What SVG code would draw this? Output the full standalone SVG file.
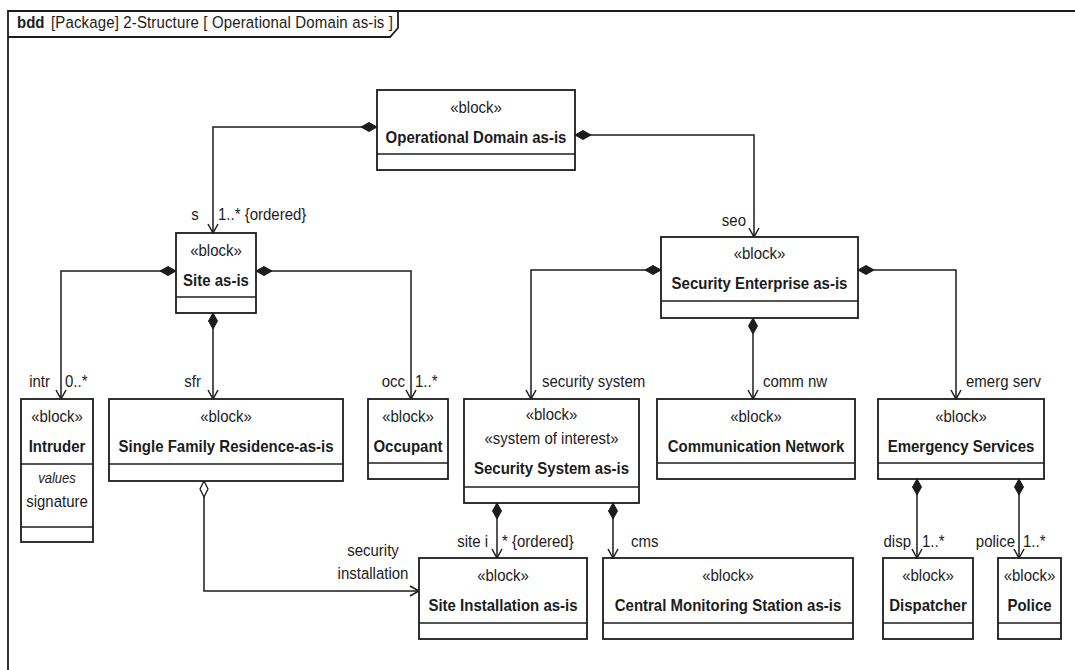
<svg xmlns="http://www.w3.org/2000/svg" width="1075" height="670" viewBox="0 0 1075 670">
  <style>
    text { font-family: "Liberation Sans", Arial, sans-serif; font-size: 15px; fill: #1c1c1c; }
    .c { text-anchor: middle; }
    .e { text-anchor: end; }
    .b { font-weight: bold; }
    .i { font-style: italic; font-size: 13px; }
    .box { fill: #fff; stroke: #1c1c1c; stroke-width: 1.8; }
    .sep { stroke: #1c1c1c; stroke-width: 1.6; fill: none; }
    .frame { fill: none; stroke: #1c1c1c; stroke-width: 1.8; }
    .conn path { fill: none; stroke: #1c1c1c; stroke-width: 1.5; }
  </style>
  <defs>
    <marker id="comp" markerUnits="userSpaceOnUse" markerWidth="20" markerHeight="12" refX="0" refY="0" viewBox="-1 -6 20 12" orient="auto">
      <path d="M0,0 L8,-4.5 L16,0 L8,4.5 Z" fill="#1c1c1c" stroke="#1c1c1c" stroke-width="1"/>
    </marker>
    <marker id="aggr" markerUnits="userSpaceOnUse" markerWidth="20" markerHeight="12" refX="0" refY="0" viewBox="-1 -6 20 12" orient="auto">
      <path d="M0,0 L8,-4 L16,0 L8,4 Z" fill="#fff" stroke="#1c1c1c" stroke-width="1.3"/>
    </marker>
    <marker id="open" markerUnits="userSpaceOnUse" markerWidth="14" markerHeight="14" refX="0" refY="0" viewBox="-12 -7 14 14" orient="auto">
      <path d="M-9,-5 L0,0 L-9,5" fill="none" stroke="#1c1c1c" stroke-width="1.5"/>
    </marker>
  </defs>

  <rect width="1075" height="670" fill="#fff"/>

  <!-- diagram frame with its name tab; text is stretched a little vertically around its baseline -->
  <g id="frame">
    <path class="frame" d="M8,670 V11 H1080"/>
    <path class="frame" d="M8,37 H390 L398,28 V11"/>
    <text x="17" y="28" class="b" transform="translate(0,28) scale(1,1.15) translate(0,-28)">bdd</text>
    <text x="51" y="28" textLength="342" transform="translate(0,28) scale(1,1.15) translate(0,-28)">[Package] 2-Structure [ Operational Domain as-is ]</text>
  </g>

  <!-- associations -->
  <g id="connectors" class="conn">
    <path d="M377,127 H213 V233" marker-start="url(#comp)" marker-end="url(#open)"/>
    <path d="M575,135 H754 V237" marker-start="url(#comp)" marker-end="url(#open)"/>
    <path d="M176,271 H61 V399" marker-start="url(#comp)" marker-end="url(#open)"/>
    <path d="M256,271 H411 V399" marker-start="url(#comp)" marker-end="url(#open)"/>
    <path d="M213,313 V399" marker-start="url(#comp)" marker-end="url(#open)"/>
    <path d="M204,481 V591 H419" marker-start="url(#aggr)" marker-end="url(#open)"/>
    <path d="M661,270 H531 V399" marker-start="url(#comp)" marker-end="url(#open)"/>
    <path d="M753,318 V399" marker-start="url(#comp)" marker-end="url(#open)"/>
    <path d="M858,270 H956 V399" marker-start="url(#comp)" marker-end="url(#open)"/>
    <path d="M497,503 V558" marker-start="url(#comp)" marker-end="url(#open)"/>
    <path d="M613,503 V558" marker-start="url(#comp)" marker-end="url(#open)"/>
    <path d="M917,479 V558" marker-start="url(#comp)" marker-end="url(#open)"/>
    <path d="M1019,479 V558" marker-start="url(#comp)" marker-end="url(#open)"/>

    <!-- role names and multiplicities -->
    <text x="195" y="220" class="c" transform="translate(0,220) scale(1,1.15) translate(0,-220)">s</text>
    <text x="218" y="220" transform="translate(0,220) scale(1,1.15) translate(0,-220)">1..*  {ordered}</text>
    <text x="746" y="226" class="e" transform="translate(0,226) scale(1,1.15) translate(0,-226)">seo</text>
    <text x="50" y="387" class="e" transform="translate(0,387) scale(1,1.15) translate(0,-387)">intr</text>
    <text x="65" y="387" transform="translate(0,387) scale(1,1.15) translate(0,-387)">0..*</text>
    <text x="201" y="387" class="e" transform="translate(0,387) scale(1,1.15) translate(0,-387)">sfr</text>
    <text x="405" y="387" class="e" transform="translate(0,387) scale(1,1.15) translate(0,-387)">occ</text>
    <text x="415" y="387" transform="translate(0,387) scale(1,1.15) translate(0,-387)">1..*</text>
    <text x="542" y="387" transform="translate(0,387) scale(1,1.15) translate(0,-387)">security system</text>
    <text x="763" y="387" transform="translate(0,387) scale(1,1.15) translate(0,-387)">comm nw</text>
    <text x="966" y="387" transform="translate(0,387) scale(1,1.15) translate(0,-387)">emerg serv</text>
    <text x="373" y="556" class="c" transform="translate(0,556) scale(1,1.15) translate(0,-556)">security</text>
    <text x="373" y="579" class="c" transform="translate(0,579) scale(1,1.15) translate(0,-579)">installation</text>
    <text x="488" y="547" class="e" transform="translate(0,547) scale(1,1.15) translate(0,-547)">site i</text>
    <text x="502" y="547" transform="translate(0,547) scale(1,1.15) translate(0,-547)">* {ordered}</text>
    <text x="631" y="547" transform="translate(0,547) scale(1,1.15) translate(0,-547)">cms</text>
    <text x="911" y="547" class="e" transform="translate(0,547) scale(1,1.15) translate(0,-547)">disp</text>
    <text x="922" y="547" transform="translate(0,547) scale(1,1.15) translate(0,-547)">1..*</text>
    <text x="1015" y="547" class="e" transform="translate(0,547) scale(1,1.15) translate(0,-547)">police</text>
    <text x="1023" y="547" transform="translate(0,547) scale(1,1.15) translate(0,-547)">1..*</text>
  </g>

  <!-- blocks -->
  <g id="operational-domain">
    <rect class="box" x="377" y="90" width="198" height="80"/>
    <path class="sep" d="M377,154 H575"/>
    <text x="476" y="113" class="c" transform="translate(0,113) scale(1,1.15) translate(0,-113)">«block»</text>
    <text x="476" y="143" class="c b" transform="translate(0,143) scale(1,1.15) translate(0,-143)">Operational Domain as-is</text>
  </g>

  <g id="site">
    <rect class="box" x="176" y="233" width="80" height="80"/>
    <path class="sep" d="M176,297 H256"/>
    <text x="216" y="256" class="c" transform="translate(0,256) scale(1,1.15) translate(0,-256)">«block»</text>
    <text x="216" y="286" class="c b" transform="translate(0,286) scale(1,1.15) translate(0,-286)">Site as-is</text>
  </g>

  <g id="security-enterprise">
    <rect class="box" x="661" y="237" width="197" height="81"/>
    <path class="sep" d="M661,301 H858"/>
    <text x="759.5" y="259" class="c" transform="translate(0,259) scale(1,1.15) translate(0,-259)">«block»</text>
    <text x="759.5" y="289" class="c b" transform="translate(0,289) scale(1,1.15) translate(0,-289)">Security Enterprise as-is</text>
  </g>

  <g id="intruder">
    <rect class="box" x="21" y="399" width="72" height="143"/>
    <path class="sep" d="M21,464 H93"/>
    <path class="sep" d="M21,527 H93"/>
    <text x="57" y="422" class="c" transform="translate(0,422) scale(1,1.15) translate(0,-422)">«block»</text>
    <text x="57" y="452" class="c b" transform="translate(0,452) scale(1,1.15) translate(0,-452)">Intruder</text>
    <text x="57" y="483" class="c i" transform="translate(0,483) scale(1,1.15) translate(0,-483)">values</text>
    <text x="57" y="507" class="c" transform="translate(0,507) scale(1,1.15) translate(0,-507)">signature</text>
  </g>

  <g id="single-family-residence">
    <rect class="box" x="109" y="399" width="234" height="82"/>
    <path class="sep" d="M109,464 H343"/>
    <text x="226" y="422" class="c" transform="translate(0,422) scale(1,1.15) translate(0,-422)">«block»</text>
    <text x="226" y="452" class="c b" transform="translate(0,452) scale(1,1.15) translate(0,-452)">Single Family Residence-as-is</text>
  </g>

  <g id="occupant">
    <rect class="box" x="368" y="399" width="80" height="80"/>
    <path class="sep" d="M368,463 H448"/>
    <text x="408" y="422" class="c" transform="translate(0,422) scale(1,1.15) translate(0,-422)">«block»</text>
    <text x="408" y="452" class="c b" transform="translate(0,452) scale(1,1.15) translate(0,-452)">Occupant</text>
  </g>

  <g id="security-system">
    <rect class="box" x="464" y="399" width="175" height="104"/>
    <path class="sep" d="M464,487 H639"/>
    <text x="551.5" y="420" class="c" transform="translate(0,420) scale(1,1.15) translate(0,-420)">«block»</text>
    <text x="551.5" y="444" class="c" transform="translate(0,444) scale(1,1.15) translate(0,-444)">«system of interest»</text>
    <text x="551.5" y="474" class="c b" transform="translate(0,474) scale(1,1.15) translate(0,-474)">Security System as-is</text>
  </g>

  <g id="communication-network">
    <rect class="box" x="657" y="399" width="198" height="80"/>
    <path class="sep" d="M657,463 H855"/>
    <text x="756" y="422" class="c" transform="translate(0,422) scale(1,1.15) translate(0,-422)">«block»</text>
    <text x="756" y="452" class="c b" transform="translate(0,452) scale(1,1.15) translate(0,-452)">Communication Network</text>
  </g>

  <g id="emergency-services">
    <rect class="box" x="878" y="399" width="166" height="80"/>
    <path class="sep" d="M878,463 H1044"/>
    <text x="961" y="422" class="c" transform="translate(0,422) scale(1,1.15) translate(0,-422)">«block»</text>
    <text x="961" y="452" class="c b" transform="translate(0,452) scale(1,1.15) translate(0,-452)">Emergency Services</text>
  </g>

  <g id="site-installation">
    <rect class="box" x="419" y="558" width="168" height="81"/>
    <path class="sep" d="M419,623 H587"/>
    <text x="503" y="581" class="c" transform="translate(0,581) scale(1,1.15) translate(0,-581)">«block»</text>
    <text x="503" y="611" class="c b" transform="translate(0,611) scale(1,1.15) translate(0,-611)">Site Installation as-is</text>
  </g>

  <g id="central-monitoring-station">
    <rect class="box" x="603" y="558" width="250" height="81"/>
    <path class="sep" d="M603,623 H853"/>
    <text x="728" y="581" class="c" transform="translate(0,581) scale(1,1.15) translate(0,-581)">«block»</text>
    <text x="728" y="611" class="c b" transform="translate(0,611) scale(1,1.15) translate(0,-611)">Central Monitoring Station as-is</text>
  </g>

  <g id="dispatcher">
    <rect class="box" x="883" y="558" width="90" height="81"/>
    <path class="sep" d="M883,623 H973"/>
    <text x="928" y="581" class="c" transform="translate(0,581) scale(1,1.15) translate(0,-581)">«block»</text>
    <text x="928" y="611" class="c b" transform="translate(0,611) scale(1,1.15) translate(0,-611)">Dispatcher</text>
  </g>

  <g id="police">
    <rect class="box" x="998" y="558" width="63" height="81"/>
    <path class="sep" d="M998,623 H1061"/>
    <text x="1029.5" y="581" class="c" transform="translate(0,581) scale(1,1.15) translate(0,-581)">«block»</text>
    <text x="1029.5" y="611" class="c b" transform="translate(0,611) scale(1,1.15) translate(0,-611)">Police</text>
  </g>
</svg>
